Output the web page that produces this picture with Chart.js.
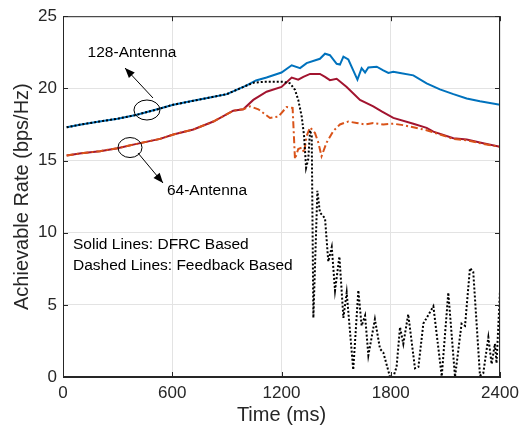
<!DOCTYPE html>
<html>
<head>
<meta charset="utf-8">
<script src="https://cdn.jsdelivr.net/npm/chart.js@4"></script>
<style>
  html, body { margin: 0; padding: 0; background: #fff; }
  #wrap { width: 529px; height: 435px; }
</style>
</head>
<body>
<div id="wrap"><canvas id="rate"></canvas></div>
<script>
// tick labels
const xTicks = [0, 600, 1200, 1800, 2400]
const yTicks = [0, 5, 10, 15, 20, 25]

// 128-antenna, DFRC based (solid blue)
const t128dfrc = [20, 100, 200, 300, 400, 533, 600, 700, 800, 900, 1009, 1060, 1118, 1200, 1256, 1302, 1338, 1411, 1439, 1466, 1503, 1521, 1540, 1567, 1594, 1617, 1640, 1659, 1677, 1723, 1759, 1787, 1814, 1851, 1924, 1997, 2070, 2144, 2217, 2290, 2400]
const r128dfrc = [17.3, 17.5, 17.7, 17.9, 18.15, 18.6, 18.85, 19.1, 19.35, 19.6, 20.2, 20.55, 20.75, 21.1, 21.6, 21.4, 21.75, 22.05, 22.4, 22.3, 21.7, 21.65, 22.2, 22.0, 21.25, 20.6, 21.4, 21.1, 21.45, 21.5, 21.25, 21.07, 21.15, 21.07, 20.9, 20.35, 19.93, 19.6, 19.3, 19.1, 18.86]

// 128-antenna, feedback based (dotted black)
const t128fb = [20, 100, 200, 300, 400, 533, 600, 700, 800, 900, 1009, 1050, 1100, 1150, 1210, 1247, 1274, 1292, 1311, 1324, 1335, 1347, 1357, 1366, 1375, 1397, 1411, 1439, 1457, 1476, 1494, 1518, 1540, 1558, 1594, 1622, 1640, 1659, 1677, 1713, 1741, 1759, 1796, 1814, 1832, 1851, 1869, 1896, 1933, 1952, 1979, 2034, 2080, 2116, 2153, 2189, 2208, 2235, 2253, 2290, 2308, 2336, 2354, 2372, 2381, 2400]
const r128fb = [17.3, 17.5, 17.7, 17.9, 18.15, 18.6, 18.85, 19.1, 19.35, 19.6, 20.2, 20.4, 20.45, 20.45, 20.45, 20.35, 19.9, 19.2, 18.05, 16.7, 14.5, 15.1, 17.1, 16.7, 4.1, 12.9, 11.4, 11.0, 8.0, 9.0, 6.0, 8.35, 4.1, 5.85, 0.5, 6.0, 3.55, 4.25, 1.5, 4.0, 1.95, 1.7, 0, 0, 0.7, 3.45, 2.3, 4.35, 0.6, 0.7, 3.7, 4.9, 0.05, 5.85, 0, 3.7, 3.55, 7.55, 7.3, 0.1, 0.25, 2.75, 0.9, 2.3, 0.95, 6.0]

// 64-antenna, DFRC based (solid red)
const t64dfrc = [20, 100, 203, 300, 386, 533, 606, 716, 826, 935, 990, 1045, 1118, 1200, 1256, 1292, 1320, 1357, 1411, 1439, 1466, 1503, 1558, 1631, 1704, 1750, 1814, 1924, 1997, 2034, 2144, 2217, 2308, 2400]
const r64dfrc = [15.35, 15.5, 15.65, 15.85, 16.1, 16.5, 16.8, 17.15, 17.7, 18.45, 18.55, 19.2, 19.77, 20.1, 20.75, 20.6, 20.8, 21.0, 21.0, 20.8, 20.57, 20.66, 20.1, 19.2, 18.75, 18.4, 17.95, 17.55, 17.26, 17.0, 16.55, 16.45, 16.2, 15.95]

// 64-antenna, feedback based (dashed orange)
const t64fb = [20, 100, 203, 300, 386, 533, 606, 716, 826, 935, 990, 1027, 1073, 1137, 1183, 1228, 1261, 1274, 1292, 1311, 1324, 1338, 1357, 1384, 1402, 1420, 1448, 1485, 1521, 1567, 1613, 1659, 1704, 1759, 1814, 1869, 1924, 1997, 2034, 2144, 2217, 2308, 2400]
const r64fb = [15.35, 15.5, 15.65, 15.85, 16.1, 16.5, 16.8, 17.15, 17.7, 18.45, 18.55, 18.75, 18.55, 17.95, 18.05, 18.7, 18.65, 15.1, 15.8, 15.9, 15.55, 16.7, 17.3, 16.9, 16.25, 15.3, 16.25, 17.05, 17.5, 17.7, 17.6, 17.5, 17.6, 17.5, 17.55, 17.45, 17.3, 17.1, 16.95, 16.5, 16.4, 16.15, 15.95]

function pts(t, r) {
  return t.map((x, i) => ({ x: x, y: r[i] }))
}

const axisCol = '#262626'
const font = 'Liberation Sans, Arial, sans-serif'

// box, inner ticks, ellipses, arrows and notes
const decor = {
  id: 'decor',
  afterDatasetsDraw(chart) {
    const ctx = chart.ctx
    const a = chart.chartArea
    const xs = chart.scales.x, ys = chart.scales.y
    ctx.save()
    ctx.strokeStyle = axisCol
    ctx.lineWidth = 1
    ctx.strokeRect(a.left + 0.5, a.top + 0.5, a.right - a.left - 1, a.bottom - a.top - 1)
    ctx.beginPath()
    xTicks.forEach(v => {
      const px = Math.round(xs.getPixelForValue(v)) + 0.5
      ctx.moveTo(px, a.bottom); ctx.lineTo(px, a.bottom - 5)
      ctx.moveTo(px, a.top); ctx.lineTo(px, a.top + 5)
    })
    yTicks.forEach(v => {
      const py = Math.round(ys.getPixelForValue(v)) + 0.5
      ctx.moveTo(a.left, py); ctx.lineTo(a.left + 5, py)
      ctx.moveTo(a.right, py); ctx.lineTo(a.right - 5, py)
    })
    ctx.stroke()

    // ellipses
    ctx.strokeStyle = '#000'
    ctx.beginPath()
    ctx.ellipse(xs.getPixelForValue(461), ys.getPixelForValue(18.5), 13, 10, 0, 0, Math.PI * 2)
    ctx.stroke()
    ctx.beginPath()
    ctx.ellipse(xs.getPixelForValue(368), ys.getPixelForValue(15.9), 12, 10, 0, 0, Math.PI * 2)
    ctx.stroke()

    function arrow(x1, y1, x2, y2) {
      ctx.beginPath(); ctx.moveTo(x1, y1); ctx.lineTo(x2, y2); ctx.stroke()
      const ang = Math.atan2(y2 - y1, x2 - x1)
      const L = 10, W = 4
      ctx.beginPath()
      ctx.moveTo(x2, y2)
      ctx.lineTo(x2 - L * Math.cos(ang) + W * Math.sin(ang), y2 - L * Math.sin(ang) - W * Math.cos(ang))
      ctx.lineTo(x2 - L * Math.cos(ang) - W * Math.sin(ang), y2 - L * Math.sin(ang) + W * Math.cos(ang))
      ctx.closePath(); ctx.fillStyle = '#000'; ctx.fill()
    }
    arrow(153, 98, 125, 68)
    arrow(138, 153, 163, 183)

    ctx.fillStyle = '#000'
    ctx.font = '15.5px ' + font
    ctx.textBaseline = 'middle'
    ctx.textAlign = 'center'
    ctx.fillText('128-Antenna', 132, 53)
    ctx.fillText('64-Antenna', 207, 191)
    ctx.textAlign = 'left'
    ctx.fillText('Solid Lines: DFRC Based', 73, 245)
    ctx.fillText('Dashed Lines: Feedback Based', 73, 266)
    ctx.restore()
  }
}

const chart = new Chart(document.getElementById('rate'), {
  type: 'line',
  data: {
    datasets: [
      { label: '128 feedback', data: pts(t128fb, r128fb), borderColor: '#000', borderWidth: 2, borderDash: [2, 2], pointRadius: 0, tension: 0 },
      { label: '128 DFRC', data: pts(t128dfrc, r128dfrc), borderColor: '#0072BD', borderWidth: 2, pointRadius: 0, tension: 0 },
      { label: '64 feedback', data: pts(t64fb, r64fb), borderColor: '#D95319', borderWidth: 2, borderDash: [7, 3, 2, 3], pointRadius: 0, tension: 0 },
      { label: '64 DFRC', data: pts(t64dfrc, r64dfrc), borderColor: '#A2142F', borderWidth: 2, pointRadius: 0, tension: 0 }
    ]
  },
  options: {
    responsive: true,
    maintainAspectRatio: false,
    animation: false,
    layout: { padding: { left: 0, right: 29, top: 12, bottom: 0 } },
    plugins: { legend: { display: false }, tooltip: { enabled: false } },
    scales: {
      x: {
        type: 'linear', min: 0, max: 2400,
        afterBuildTicks: s => { s.ticks = xTicks.map(v => ({ value: v })) },
        afterFit: s => { s.height = 58 },
        ticks: { color: axisCol, font: { family: font, size: 17 }, padding: 6, maxRotation: 0, callback: v => String(v) },
        grid: { color: '#e3e3e3', drawTicks: false },
        border: { color: axisCol },
        title: { display: true, text: 'Time (ms)', color: axisCol, font: { family: font, size: 20 }, padding: { top: 0, bottom: 8 } }
      },
      y: {
        min: 0, max: 25,
        afterBuildTicks: s => { s.ticks = yTicks.map(v => ({ value: v })) },
        afterFit: s => { s.width = 63 },
        ticks: { color: axisCol, font: { family: font, size: 17 }, padding: 6, callback: v => String(v) },
        grid: { color: '#e3e3e3', drawTicks: false },
        border: { color: axisCol },
        title: { display: true, text: 'Achievable Rate (bps/Hz)', color: axisCol, font: { family: font, size: 20 }, padding: { top: 10, bottom: 0 } }
      }
    }
  },
  plugins: [decor]
})
</script>
</body>
</html>
